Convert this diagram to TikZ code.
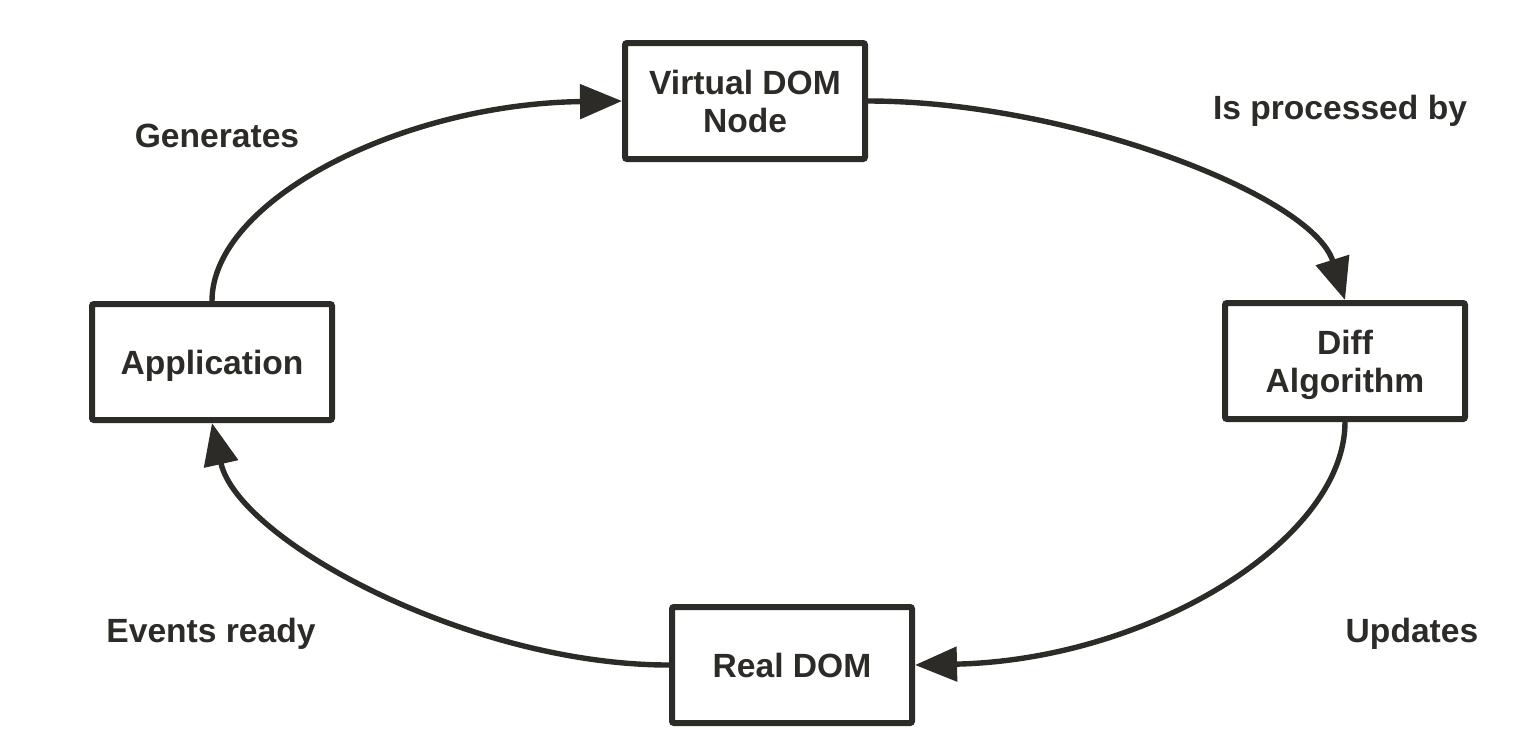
\documentclass[tikz,border=0pt]{standalone}
\usepackage{fontspec}
\setmainfont{Liberation Sans}
\usetikzlibrary{arrows.meta}
\definecolor{ink}{RGB}{45,43,40}

\begin{document}
\begin{tikzpicture}[x=0.5pt,y=-0.5pt,
  box/.style={draw=ink,line width=3pt,rounded corners=1pt,minimum width=120pt,
    minimum height=58pt,inner sep=0pt,align=center,text=ink,text depth=0pt,
    font=\fontsize{16.8}{19}\selectfont\bfseries},
  lbl/.style={text=ink,text depth=0pt,font=\fontsize{16.8}{19}\selectfont\bfseries},
  link/.style={draw=ink,line width=2.7pt,-{Triangle[length=21pt,width=17pt]}}]
\useasboundingbox (0,0) rectangle (1520,752);

\node[box] (vdom) at (745,101) {Virtual DOM\\Node};
\node[box] (diff) at (1345,361) {Diff\\Algorithm};
\node[box] (real) at (792,665) {Real DOM};
\node[box] (app) at (212,362) {Application};

\node[lbl] (gen) at (217,136) {Generates};
\node[lbl] (proc) at (1340,107) {Is processed by};
\node[lbl] (upd) at (1412,630) {Updates};
\node[lbl] (evt) at (211,630) {Events ready};

\draw[link] (app.north) .. controls +(0,-100) and +(-222,3) .. (vdom.west);
\draw[link] (vdom.east) .. controls +(200,0) and +(-33,-105) .. (diff.north);
\draw[link] (diff.south) .. controls +(0,118) and +(234,-5) .. (real.east);
\draw[link] (real.west) .. controls +(-200,0) and +(26,117) .. (app.south);
\end{tikzpicture}
\end{document}
